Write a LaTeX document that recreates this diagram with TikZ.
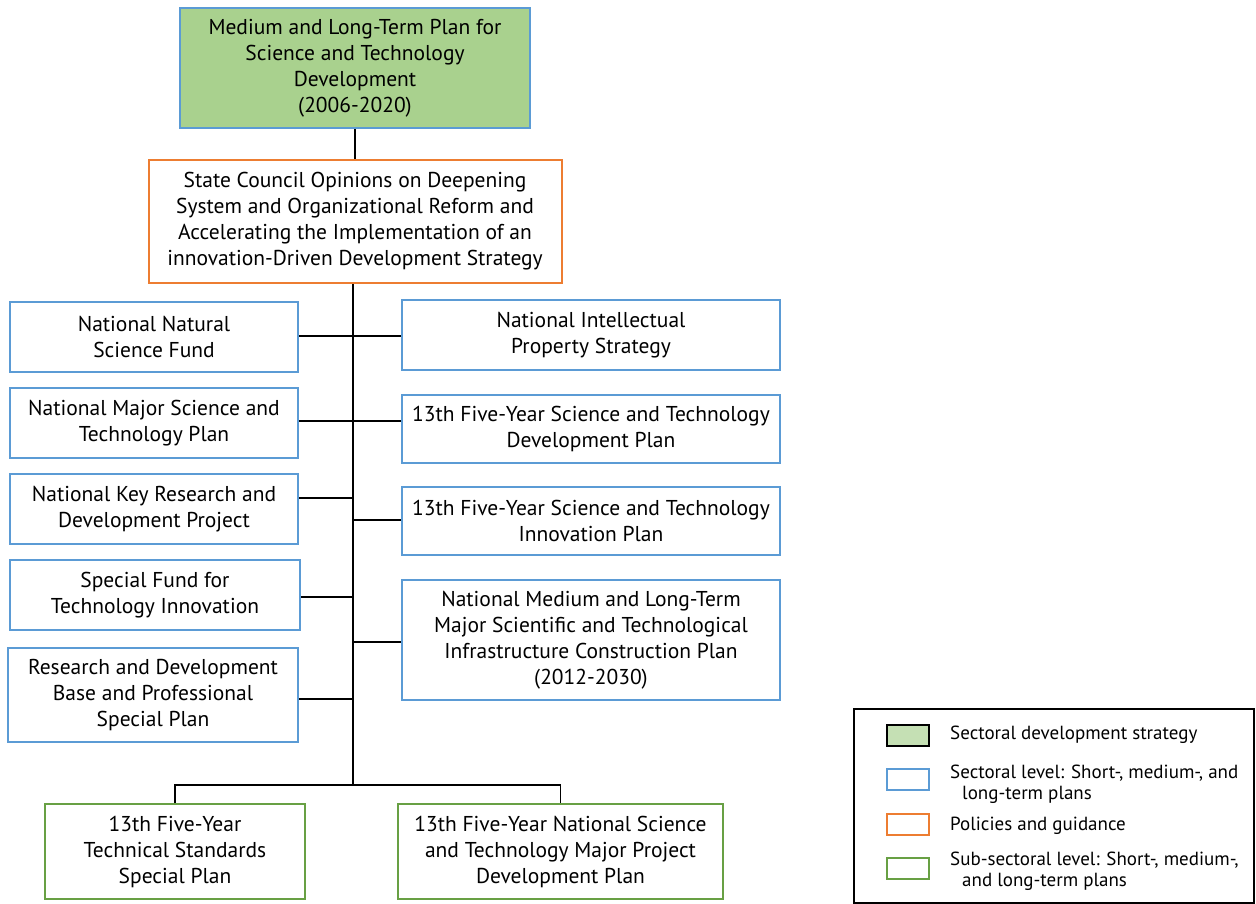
\documentclass[tikz,border=0pt]{standalone}
\usepackage{fontspec}
\setmainfont{PT Sans}
\definecolor{cblue}{HTML}{5B9BD5}
\definecolor{corange}{HTML}{ED7D31}
\definecolor{cgreenfill}{HTML}{A9D18E}
\definecolor{clegfill}{HTML}{C5E0B4}
\definecolor{cgreen}{HTML}{68A044}
\tikzset{
  box/.style={draw, line width=2pt, rectangle, align=center, inner sep=0pt, font=\fontsize{21.5}{26}\selectfont},
  bluebox/.style={box, draw=cblue},
  orangebox/.style={box, draw=corange},
  greenbox/.style={box, draw=cgreen},
  topbox/.style={box, draw=cblue, fill=cgreenfill},
  conn/.style={line width=1.8pt, black},
  legsym/.style={draw, line width=2pt, minimum width=42pt, minimum height=21pt, inner sep=0pt},
  legtext/.style={anchor=west, align=left, inner sep=0pt, font=\fontsize{19}{21}\selectfont},
}
\begin{document}
\begin{tikzpicture}[x=1pt,y=-1pt]
\useasboundingbox (0,0) rectangle (1256,903);
% top
\node[topbox, minimum width=350pt, minimum height=120pt] (T) at (355,68) {Medium and Long-Term Plan for\\Science and Technology\\Development\\(2006-2020)};
\node[orangebox, minimum width=413pt, minimum height=123pt] (O) at (355,221.5) {State Council Opinions on Deepening\\System and Organizational Reform and\\Accelerating the Implementation of an\\innovation-Driven Development Strategy};
% left
\node[bluebox, minimum width=288pt, minimum height=70pt] (L1) at (154,337) {National Natural\\Science Fund};
\node[bluebox, minimum width=288pt, minimum height=70pt] (L2) at (154,423) {National Major Science and\\Technology Plan};
\node[bluebox, minimum width=288pt, minimum height=70pt] (L3) at (154,509) {National Key Research and\\Development Project};
\node[bluebox, minimum width=290pt, minimum height=70pt] (L4) at (155,595) {Special Fund for\\Technology Innovation};
\node[bluebox, minimum width=290pt, minimum height=94pt] (L5) at (153,695) {Research and Development\\Base and Professional\\Special Plan};
% right
\node[bluebox, minimum width=378pt, minimum height=70pt] (R1) at (591,335) {National Intellectual\\Property Strategy};
\node[bluebox, minimum width=378pt, minimum height=68pt] (R2) at (591,429) {13th Five-Year Science and Technology\\Development Plan};
\node[bluebox, minimum width=378pt, minimum height=68pt] (R3) at (591,521) {13th Five-Year Science and Technology\\Innovation Plan};
\node[bluebox, minimum width=378pt, minimum height=120pt] (R4) at (591,640) {National Medium and Long-Term\\Major Scientific and Technological\\Infrastructure Construction Plan\\(2012-2030)};
% bottom
\node[greenbox, minimum width=260pt, minimum height=95pt] (B1) at (175,851.5) {13th Five-Year\\Technical Standards\\Special Plan};
\node[greenbox, minimum width=325pt, minimum height=95pt] (B2) at (560.5,851.5) {13th Five-Year National Science\\and Technology Major Project\\Development Plan};
% trunk coordinates
\coordinate (c1) at (353,336);
\coordinate (c2) at (353,421);
\coordinate (c3) at (353,498);
\coordinate (c3r) at (353,520);
\coordinate (c4) at (353,597);
\coordinate (c4r) at (353,642);
\coordinate (c5) at (353,699);
\coordinate (jt) at (353,785);
% connectors
\draw[conn] (T.south) -- (O.north);
\draw[conn] (O.south -| jt) -- (jt);
\draw[conn] (L1.east |- c1) -- (R1.west |- c1);
\draw[conn] (L2.east |- c2) -- (R2.west |- c2);
\draw[conn] (L3.east |- c3) -- (c3);
\draw[conn] (c3r) -- (R3.west |- c3r);
\draw[conn] (L4.east |- c4) -- (c4);
\draw[conn] (c4r) -- (R4.west |- c4r);
\draw[conn] (L5.east |- c5) -- (c5);
\draw[conn] (B1.north) |- (jt) -| (B2.north);
% legend
\node[draw=black, line width=1.8pt, minimum width=400pt, minimum height=194pt, inner sep=0pt] (leg) at (1054,806) {};
\node[legsym, fill=clegfill, draw=black] (s1) at (908,735) {};
\node[legsym, draw=cblue] (s2) at (908,779) {};
\node[legsym, draw=corange] (s3) at (908,824) {};
\node[legsym, draw=cgreen] (s4) at (908,868) {};
\node[legtext] (t1) at (950,735) {Sectoral development strategy};
\node[legtext] (t2) at (950,784.5) {Sectoral level: Short-, medium-, and\\\hspace*{12pt}long-term plans};
\node[legtext] (t3) at (950,826) {Policies and guidance};
\node[legtext] (t4) at (950,871.5) {Sub-sectoral level: Short-, medium-,\\\hspace*{12pt}and long-term plans};
\end{tikzpicture}
\end{document}
